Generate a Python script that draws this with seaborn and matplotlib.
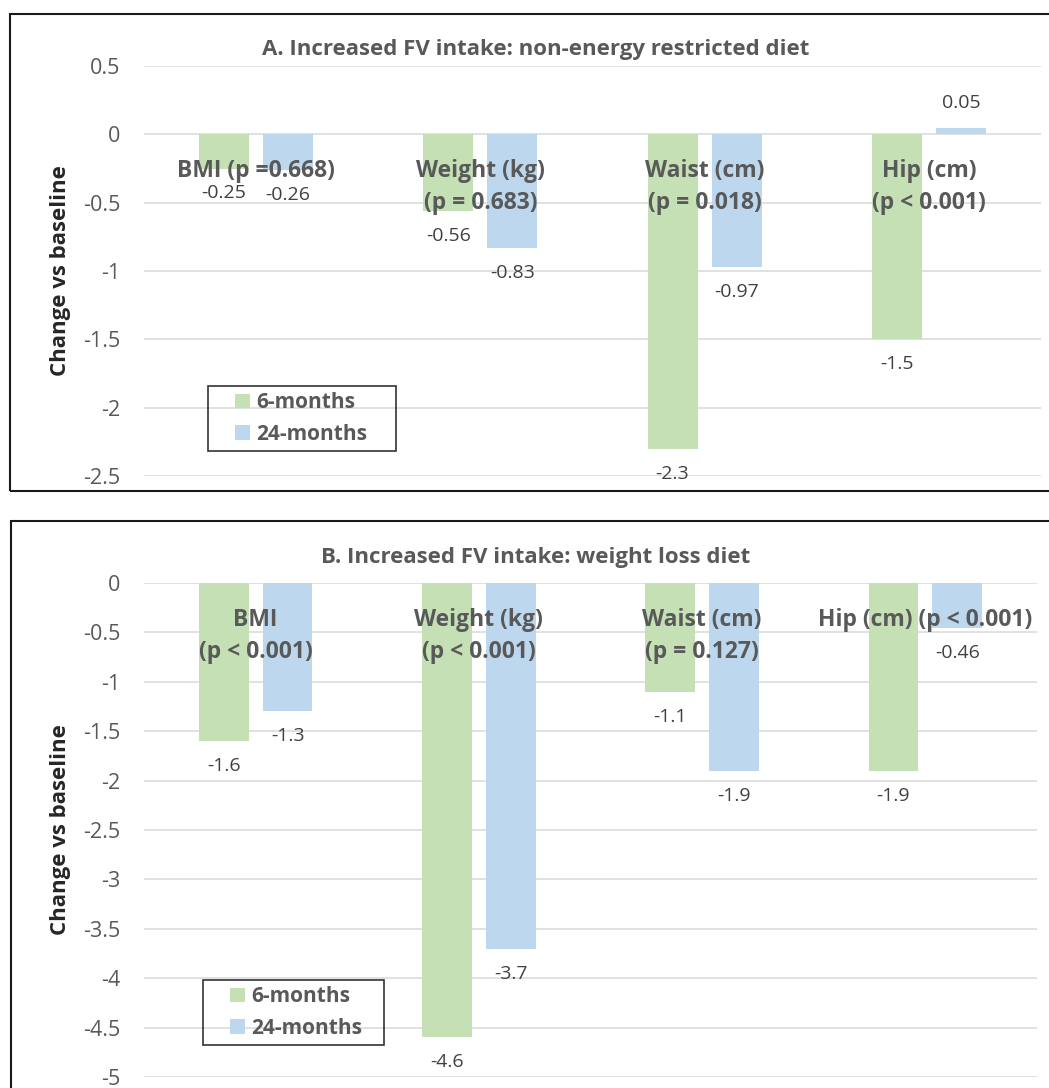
import matplotlib
matplotlib.use("Agg")
import matplotlib.pyplot as plt
import pandas as pd
import seaborn as sns
from matplotlib.patches import Rectangle
from matplotlib.legend_handler import HandlerPatch
from matplotlib.ticker import MultipleLocator, FuncFormatter

# ---- data -------------------------------------------------------------
periods = ["6-months", "24-months"]

labels_a = ["BMI (p =0.668)", "Weight (kg)\n(p = 0.683)",
            "Waist (cm)\n(p = 0.018)", "Hip (cm)\n(p < 0.001)"]
six_a = [-0.25, -0.56, -2.3, -1.5]
tf_a = [-0.26, -0.83, -0.97, 0.05]

labels_b = ["BMI\n(p < 0.001)", "Weight (kg)\n(p < 0.001)",
            "Waist (cm)\n(p = 0.127)", "Hip (cm) (p < 0.001)"]
six_b = [-1.6, -4.6, -1.1, -1.9]
tf_b = [-1.3, -3.7, -1.9, -0.46]

title_a = "A. Increased FV intake: non-energy restricted diet"
title_b = "B. Increased FV intake: weight loss diet"

GREEN = "#C5E0B4"
BLUE = "#BDD7EE"
GREY_TXT = "#595959"

# ---- style ------------------------------------------------------------
sns.set_theme(style="white")
plt.rcParams["font.family"] = ["Open Sans", "DejaVu Sans"]
plt.rcParams["axes.unicode_minus"] = False

W, H = 1049, 1088
fig = plt.figure(figsize=(W / 100, H / 100), dpi=100)


def px_rect(x0, y0, x1, y1):
    return [x0 / W, 1 - y1 / H, (x1 - x0) / W, (y1 - y0) / H]


def square_handle(legend, orig_handle, xdescent, ydescent, width, height, fontsize):
    side = height
    return Rectangle((width - side - xdescent, -ydescent), side, side)


def fmt(v, _):
    return "0" if abs(v) < 1e-9 else f"{v:g}"


def panel(rect, labels, six, tf, ylim, title, title_y, frame, legend_box):
    ax = fig.add_axes(px_rect(*rect))
    df = pd.DataFrame({
        "measure": labels * 2,
        "period": [periods[0]] * len(labels) + [periods[1]] * len(labels),
        "change": six + tf,
    })
    sns.barplot(data=df, x="measure", y="change", hue="period",
                order=labels, hue_order=periods, palette=[GREEN, BLUE],
                saturation=1, width=0.572, gap=0.22, errorbar=None,
                linewidth=0, edgecolor="none", ax=ax)

    for cont in ax.containers:
        ax.bar_label(cont, labels=[f"{v:g}" for v in cont.datavalues],
                     padding=11.5, fontsize=14, color="#404040")

    ax.set_ylim(*ylim)
    ax.set_xlim(-0.5, len(labels) - 0.5)
    ax.yaxis.set_major_locator(MultipleLocator(0.5))
    ax.yaxis.set_major_formatter(FuncFormatter(fmt))
    ax.grid(axis="y", color="#D9D9D9", linewidth=1.1)
    ax.grid(axis="x", visible=False)
    ax.set_axisbelow(True)
    ax.xaxis.set_zorder(3)
    for s in ax.spines.values():
        s.set_visible(False)
    ax.spines["bottom"].set_position(("data", 0))

    ax.tick_params(axis="x", length=0, pad=18, labelsize=16.5, labelcolor=GREY_TXT)
    for t in ax.get_xticklabels():
        t.set_fontweight("bold")
        t.set_linespacing(1.45)
    ax.tick_params(axis="y", length=0, pad=17, labelsize=15.5, labelcolor=GREY_TXT)
    ax.set_xlabel("")
    ax.set_ylabel("Change vs baseline", fontsize=16, fontweight="bold", color="#262626")
    ax.yaxis.set_label_coords((71 - rect[0]) / (rect[2] - rect[0]), 0.5)

    bx0, by0, bx1, by1 = legend_box
    handles, lbls = ax.get_legend_handles_labels()
    leg = ax.legend(handles, lbls, loc="upper left", mode="expand",
                    bbox_to_anchor=(bx0 / W, 1 - by1 / H, (bx1 - bx0) / W, (by1 - by0) / H),
                    bbox_transform=fig.transFigure, borderaxespad=0,
                    frameon=True, fancybox=False, edgecolor="black",
                    prop={"weight": "bold", "size": 15}, labelcolor=GREY_TXT,
                    handlelength=1.73, handleheight=0.72, handletextpad=0.3,
                    borderpad=0.3, labelspacing=0.5,
                    handler_map={h: HandlerPatch(patch_func=square_handle) for h in handles})
    leg.get_frame().set_facecolor("none")
    leg.get_frame().set_linewidth(1.2)

    fig.text(536 / W, 1 - title_y / H, title, ha="center", va="center",
             fontsize=16, fontweight="bold", color=GREY_TXT)

    x0, y0, x1, y1 = frame
    fig.add_artist(Rectangle((x0 / W, 1 - y1 / H), (x1 - x0) / W, (y1 - y0) / H,
                             transform=fig.transFigure, fill=False,
                             linewidth=1.5, edgecolor="#1A1A1A"))
    return ax


panel((144, 66, 1041, 476), labels_a, six_a, tf_a, (-2.5, 0.5),
      title_a, 49, (10, 14, 1062, 491), (208, 386, 396, 448))
panel((144, 583, 1037, 1077), labels_b, six_b, tf_b, (-5, 0),
      title_b, 557, (11, 521, 1062, 1110), (203, 980, 384, 1045))

fig.savefig("out.png", dpi=100)
